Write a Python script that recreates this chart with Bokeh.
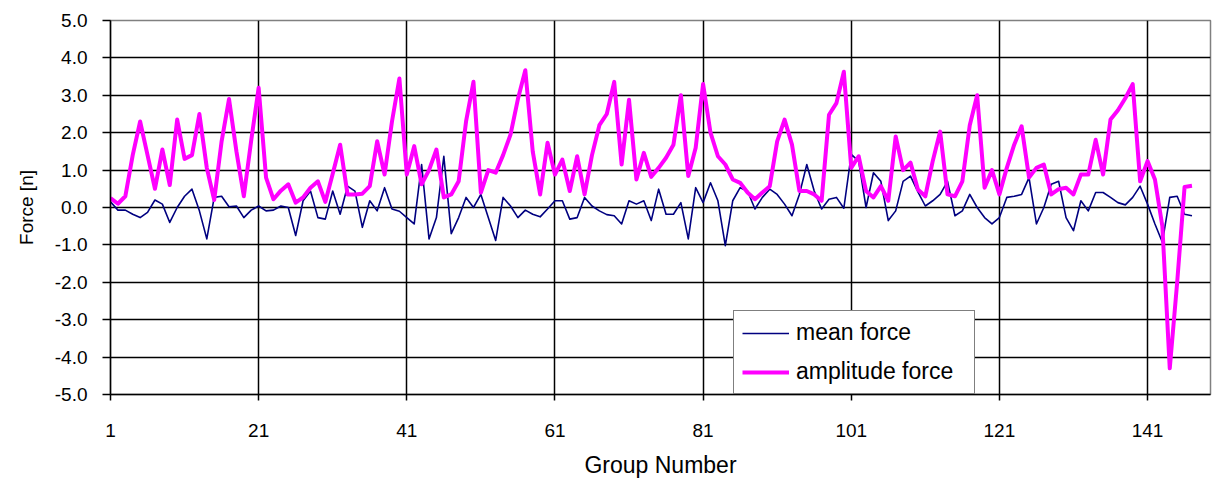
from bokeh.plotting import figure
from bokeh.models import FixedTicker, NumeralTickFormatter, Legend, LegendItem, Range1d
from bokeh.embed import file_html
from bokeh.resources import INLINE

group = list(range(1, 148))

mean_force = [
    0.15, -0.07, -0.07, -0.18, -0.27, -0.13, 0.2, 0.09, -0.4, 0.0,
    0.3, 0.49, -0.09, -0.84, 0.27, 0.3, 0.02, 0.04, -0.27, -0.07,
    0.04, -0.09, -0.07, 0.04, 0.0, -0.75, 0.18, 0.44, -0.27, -0.31,
    0.44, -0.18, 0.57, 0.44, -0.53, 0.18, -0.09, 0.53, -0.04, -0.1,
    -0.27, -0.44, 1.15, -0.84, -0.27, 1.37, -0.7, -0.27, 0.27, 0.0,
    0.35, -0.27, -0.88, 0.27, 0.04, -0.27, -0.07, -0.18, -0.25, -0.04,
    0.18, 0.18, -0.31, -0.27, 0.27, 0.04, -0.09, -0.19, -0.22, -0.44,
    0.18, 0.09, 0.18, -0.35, 0.49, -0.18, -0.18, 0.13, -0.84, 0.53,
    0.13, 0.66, 0.18, -1.02, 0.18, 0.53, 0.44, -0.04, 0.27, 0.49,
    0.35, 0.09, -0.22, 0.35, 1.15, 0.44, -0.04, 0.22, 0.27, -0.02,
    1.42, 1.24, 0.0, 0.93, 0.7, -0.35, -0.09, 0.7, 0.84, 0.42,
    0.04, 0.18, 0.35, 0.7, -0.22, -0.09, 0.35, 0.0, -0.27, -0.44,
    -0.27, 0.27, 0.3, 0.35, 0.8, -0.44, 0.0, 0.62, 0.7, -0.27,
    -0.62, 0.18, -0.09, 0.4, 0.4, 0.27, 0.13, 0.07, 0.27, 0.57,
    0.09, -0.44, -0.93, 0.27, 0.3, -0.18, -0.22,
]

amplitude_force = [
    0.25, 0.1, 0.3, 1.4, 2.3, 1.4, 0.5, 1.55, 0.6, 2.35,
    1.3, 1.4, 2.5, 1.06, 0.2, 1.77, 2.9, 1.5, 0.3, 1.8,
    3.2, 0.8, 0.22, 0.45, 0.62, 0.13, 0.27, 0.53, 0.7, 0.15,
    0.9, 1.68, 0.35, 0.35, 0.37, 0.57, 1.77, 0.88, 2.3, 3.45,
    0.88, 1.64, 0.62, 1.0, 1.55, 0.27, 0.35, 0.7, 2.3, 3.36,
    0.4, 1.0, 0.93, 1.4, 1.95, 2.9, 3.67, 1.5, 0.35, 1.73,
    0.88, 1.28, 0.44, 1.37, 0.35, 1.4, 2.2, 2.5, 3.36, 1.15,
    2.88, 0.75, 1.46, 0.82, 1.06, 1.33, 1.68, 3.0, 0.84, 1.6,
    3.3, 2.0, 1.37, 1.15, 0.75, 0.66, 0.4, 0.22, 0.4, 0.57,
    1.77, 2.35, 1.68, 0.44, 0.44, 0.35, 0.18, 2.48, 2.79, 3.63,
    1.06, 1.37, 0.44, 0.27, 0.57, 0.18, 1.9, 1.0, 1.2, 0.48,
    0.3, 1.24, 2.03, 0.35, 0.3, 0.7, 2.2, 3.0, 0.53, 1.0,
    0.35, 1.06, 1.68, 2.17, 0.8, 1.06, 1.15, 0.35, 0.49, 0.53,
    0.35, 0.88, 0.88, 1.81, 0.88, 2.35, 2.6, 2.92, 3.3, 0.7,
    1.24, 0.75, -0.5, -4.3, -2.0, 0.55, 0.58,
]

x_ticks = [1, 21, 41, 61, 81, 101, 121, 141]
y_ticks = [-5, -4, -3, -2, -1, 0, 1, 2, 3, 4, 5]

FONT = "Liberation Sans"

p = figure(width=1212, height=480, output_backend="svg", toolbar_location=None,
           x_range=Range1d(1, 149.5), y_range=Range1d(-5, 5),
           min_border_left=110, min_border_right=2, min_border_top=20, min_border_bottom=86)

p.outline_line_color = "#808080"
p.outline_line_width = 1.5
p.background_fill_color = "white"
p.border_fill_color = "white"

p.xaxis.ticker = FixedTicker(ticks=x_ticks)
p.yaxis.ticker = FixedTicker(ticks=y_ticks)
p.yaxis.formatter = NumeralTickFormatter(format="0.0")
p.xgrid.ticker = FixedTicker(ticks=x_ticks[1:])
p.ygrid.ticker = FixedTicker(ticks=y_ticks[:-1])
for g in (p.xgrid, p.ygrid):
    g.grid_line_color = "black"
    g.grid_line_width = 1.5

for ax in (p.xaxis, p.yaxis):
    ax.axis_line_color = "black"
    ax.axis_line_width = 1.5
    ax.major_tick_line_color = "black"
    ax.major_tick_line_width = 1.5
    ax.minor_tick_line_color = None
    ax.major_tick_in = 0
    ax.major_label_text_font = FONT
    ax.major_label_text_font_size = "19px"
    ax.major_label_text_color = "black"
    ax.axis_label_text_font = FONT
    ax.axis_label_text_font_style = "normal"
    ax.axis_label_text_color = "black"

p.yaxis.axis_label_text_font_size = "19px"
p.xaxis.axis_label_text_font_size = "23px"
p.yaxis.major_tick_out = 8
p.xaxis.major_tick_out = 6
p.yaxis.major_label_standoff = 15
p.xaxis.major_label_standoff = 23
p.yaxis.axis_label = "Force [n]"
p.xaxis.axis_label = "Group Number"
p.yaxis.axis_label_standoff = 15
p.xaxis.axis_label_standoff = 12

r_mean = p.line(group, mean_force, line_color="#000080", line_width=1.6, line_join="round")
r_amp = p.line(group, amplitude_force, line_color="#FF00FF", line_width=4, line_join="round")

legend = Legend(items=[LegendItem(label="mean force", renderers=[r_mean]),
                       LegendItem(label="amplitude force", renderers=[r_amp])],
                location=(623, 0))
legend.border_line_color = "black"
legend.border_line_width = 1.5
legend.background_fill_color = "white"
legend.background_fill_alpha = 1.0
legend.label_text_font = FONT
legend.label_text_font_size = "23px"
legend.label_text_color = "black"
legend.glyph_width = 47
legend.glyph_height = 26
legend.label_height = 26
legend.label_width = 170
legend.label_standoff = 7
legend.spacing = 12
legend.padding = 8
legend.margin = 0
p.add_layout(legend, "center")

open("out.html", "w").write(file_html(p, INLINE))
